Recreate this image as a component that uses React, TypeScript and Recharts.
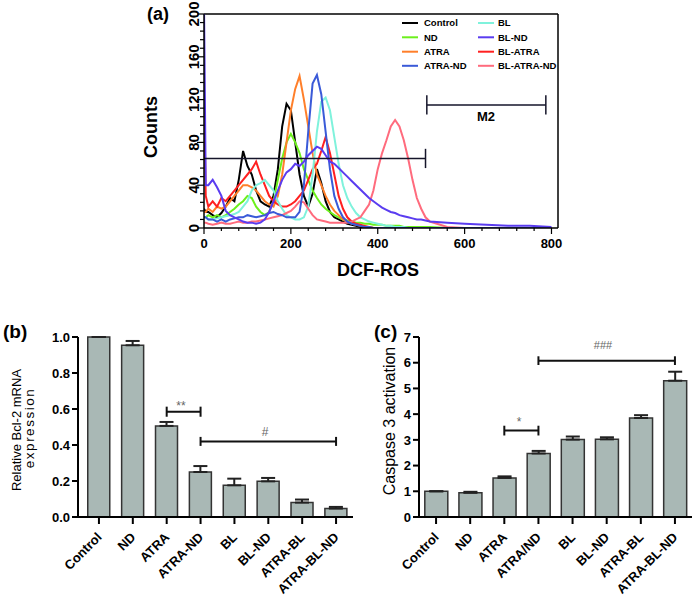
import React from "react";
import { LineChart, Line, XAxis, YAxis, BarChart, Bar, ErrorBar, ReferenceLine } from "recharts";

const FONT = "'Liberation Sans', Arial, Helvetica, sans-serif";

// ---------- (a) DCF-ROS histogram ----------
const dcfBins = [0, 4, 10, 20, 30, 40, 50, 60, 70, 80, 90, 100, 110, 120, 130, 140, 150, 160, 170, 180, 190, 200, 210, 220, 230, 240, 250, 260, 270, 280, 290, 300, 310, 320, 330, 340, 350, 360, 370, 380, 390, 400, 410, 420, 430, 440, 450, 460, 470, 480, 490, 500, 510, 520, 560, 600, 650, 700, 750, 800];

const controlCounts = [18, 15, 15, 12, 10, 14, 20, 28, 25, 45, 72, 58, 50, 35, 25, 22, 20, 30, 55, 95, 116, 110, 80, 50, 30, 20, 32, 55, 42, 25, 15, 10, 8, 6, 4, 3, 2, 1, 1, 0, 0, 0, 0, 0, 0, 0, 0, 0, 0, 0, 0, 0, 0, 0, 0, 0, 0, 0, 0, 0];
const ndCounts = [10, 10, 12, 10, 12, 10, 12, 15, 18, 22, 25, 30, 28, 20, 15, 12, 15, 25, 45, 65, 80, 88, 80, 70, 55, 45, 35, 28, 22, 18, 15, 12, 10, 8, 7, 6, 5, 5, 4, 4, 3, 3, 3, 2, 2, 2, 2, 1, 1, 1, 1, 1, 1, 1, 0, 0, 0, 0, 0, 0];
const atraCounts = [15, 15, 18, 15, 20, 18, 20, 25, 30, 35, 40, 40, 38, 35, 30, 25, 22, 20, 30, 50, 80, 110, 130, 142, 120, 95, 70, 50, 40, 30, 22, 16, 12, 8, 6, 4, 3, 2, 1, 1, 0, 0, 0, 0, 0, 0, 0, 0, 0, 0, 0, 0, 0, 0, 0, 0, 0, 0, 0, 0];
const atraNdCounts = [10, 10, 8, 8, 6, 8, 6, 8, 9, 10, 10, 12, 11, 10, 11, 12, 14, 15, 13, 12, 10, 10, 10, 15, 40, 90, 135, 143, 125, 90, 55, 30, 18, 10, 6, 4, 3, 2, 1, 1, 0, 0, 0, 0, 0, 0, 0, 0, 0, 0, 0, 0, 0, 0, 0, 0, 0, 0, 0, 0];
const blCounts = [10, 10, 8, 8, 9, 10, 11, 12, 13, 15, 20, 25, 35, 40, 42, 45, 40, 35, 25, 18, 12, 10, 8, 8, 10, 20, 50, 90, 118, 122, 110, 85, 60, 40, 28, 20, 14, 10, 8, 6, 5, 4, 3, 2, 2, 1, 1, 1, 0, 0, 0, 0, 0, 0, 0, 0, 0, 0, 0, 0];
const blNdCounts = [210, 40, 40, 45, 38, 30, 16, 12, 10, 8, 6, 5, 5, 4, 5, 8, 15, 25, 35, 45, 52, 55, 60, 58, 62, 68, 72, 76, 74, 68, 62, 60, 56, 52, 48, 44, 40, 36, 32, 28, 25, 22, 19, 17, 15, 14, 12, 11, 10, 9, 8, 8, 7, 6, 5, 4, 3, 2, 2, 1];
const blAtraCounts = [125, 30, 20, 25, 20, 28, 25, 30, 35, 40, 45, 50, 55, 62, 50, 40, 30, 25, 22, 20, 20, 22, 25, 30, 35, 45, 55, 60, 72, 85, 70, 50, 30, 18, 10, 6, 4, 3, 2, 1, 0, 0, 0, 0, 0, 0, 0, 0, 0, 0, 0, 0, 0, 0, 0, 0, 0, 0, 0, 0];
const blAtraNdCounts = [5, 5, 4, 3, 4, 5, 4, 4, 5, 6, 5, 5, 6, 6, 7, 8, 9, 10, 11, 12, 14, 16, 20, 25, 24, 18, 12, 8, 7, 6, 5, 5, 5, 5, 5, 6, 8, 10, 16, 22, 35, 55, 70, 82, 95, 101, 95, 82, 65, 45, 28, 18, 10, 6, 1, 0, 0, 0, 0, 0];

const dcfTicks = [0, 40, 80, 120, 160, 200, 240, 280, 320, 360, 400, 440, 480, 520, 560, 600, 640, 680, 720, 760, 800];
const dcfTickLabels = [0, 200, 400, 600, 800];
const countTicks = [0, 8, 16, 24, 32, 40, 48, 56, 64, 72, 80, 88, 96, 104, 112, 120, 128, 136, 144, 152, 160, 168, 176, 184, 192, 200];
const countTickLabels = [0, 40, 80, 120, 160, 200];

const m1Gate = { from: 0, to: 510, level: 65 };
const m2Gate = { from: 513, to: 787, level: 115 };

const histSeries = [
  { key: "control", name: "Control", color: "#000000", counts: controlCounts },
  { key: "nd", name: "ND", color: "#6cf01c", counts: ndCounts },
  { key: "atra", name: "ATRA", color: "#ff7f2a", counts: atraCounts },
  { key: "atraNd", name: "ATRA-ND", color: "#3a5ad8", counts: atraNdCounts },
  { key: "bl", name: "BL", color: "#7ff2dc", counts: blCounts },
  { key: "blNd", name: "BL-ND", color: "#5a3cf0", counts: blNdCounts },
  { key: "blAtra", name: "BL-ATRA", color: "#ff2020", counts: blAtraCounts },
  { key: "blAtraNd", name: "BL-ATRA-ND", color: "#ff6b7d", counts: blAtraNdCounts },
];
// drawing order (last on top)
const drawOrder = ["control", "nd", "atra", "blAtra", "bl", "blAtraNd", "atraNd", "blNd"];

const histRows = dcfBins.map((x, i) => {
  const row: any = { x };
  histSeries.forEach((s) => (row[s.key] = s.counts[i]));
  return row;
});

// ---------- (b) Bcl-2 mRNA ----------
const bcl2Groups = ["Control", "ND", "ATRA", "ATRA-ND", "BL", "BL-ND", "ATRA-BL", "ATRA-BL-ND"];
const bcl2Mean = [1.0, 0.954, 0.506, 0.25, 0.176, 0.198, 0.08, 0.047];
const bcl2Sem = [0, 0.024, 0.022, 0.033, 0.037, 0.019, 0.017, 0.009];
const bcl2Ticks = [0, 0.2, 0.4, 0.6, 0.8, 1.0];
const bcl2Rows = bcl2Groups.map((g, i) => ({ group: g, mean: bcl2Mean[i], sem: bcl2Sem[i] }));

// ---------- (c) Caspase 3 ----------
const caspGroups = ["Control", "ND", "ATRA", "ATRA/ND", "BL", "BL-ND", "ATRA-BL", "ATRA-BL-ND"];
const caspMean = [1.0, 0.94, 1.52, 2.47, 3.01, 3.02, 3.85, 5.3];
const caspSem = [0, 0.04, 0.06, 0.1, 0.12, 0.08, 0.11, 0.35];
const caspTicks = [0, 1, 2, 3, 4, 5, 6, 7];
const caspRows = caspGroups.map((g, i) => ({ group: g, mean: caspMean[i], sem: caspSem[i] }));

const BAR_FILL = "#a9b8b5";

const HistXTick = (props: any) => {
  const { x, y, payload } = props;
  const major = dcfTickLabels.includes(payload.value);
  return (
    <g>
      <line x1={x} y1={y} x2={x} y2={y + (major ? 6 : 3)} stroke="#000" strokeWidth={1.2} />
      {major && (
        <text x={x} y={y + 20} textAnchor="middle" fontSize={13} fontWeight="bold" fontFamily={FONT} fill="#000">
          {payload.value}
        </text>
      )}
    </g>
  );
};

const CountTick = (props: any) => {
  const { x, y, payload } = props;
  const major = countTickLabels.includes(payload.value);
  const tx = x - 5;
  return (
    <g>
      <line x1={x - (major ? 7 : 4)} y1={y} x2={x} y2={y} stroke="#000" strokeWidth={1.2} />
      {major && (
        <text x={tx} y={y} transform={`rotate(-90, ${tx}, ${y})`} textAnchor="middle" fontSize={15} fontWeight="bold" fontFamily={FONT} fill="#000">
          {payload.value}
        </text>
      )}
    </g>
  );
};

const GroupTick = (props: any) => {
  const { x, y, payload } = props;
  const tx = x + 3.5;
  const ty = y + 21;
  return (
    <g>
      <line x1={x} y1={y} x2={x} y2={y + 7} stroke="#000" strokeWidth={2} />
      <text x={tx} y={ty} transform={`rotate(-45, ${tx}, ${ty})`} textAnchor="end" fontSize={13} fontWeight="bold" fontFamily={FONT} fill="#000">
        {payload.value}
      </text>
    </g>
  );
};

const makeValueTick = (fmt: (v: number) => string) => (props: any) => {
  const { x, y, payload } = props;
  return (
    <g>
      <line x1={x - 6} y1={y} x2={x} y2={y} stroke="#000" strokeWidth={2} />
      <text x={x - 8} y={y} dy="0.36em" textAnchor="end" fontSize={13} fontWeight="bold" fontFamily={FONT} fill="#000">
        {fmt(payload.value)}
      </text>
    </g>
  );
};

const bracketLines = (from: string, to: string, level: number, cap: number, key: string) => [
  <ReferenceLine key={key + "h"} segment={[{ x: from, y: level }, { x: to, y: level }]} stroke="#111" strokeWidth={2} />,
  <ReferenceLine key={key + "l"} segment={[{ x: from, y: level - cap }, { x: from, y: level + cap }]} stroke="#111" strokeWidth={2} />,
  <ReferenceLine key={key + "r"} segment={[{ x: to, y: level - cap }, { x: to, y: level + cap }]} stroke="#111" strokeWidth={2} />,
];

const gateLines = (g: { from: number; to: number; level: number }, capLeft: boolean, key: string) => {
  const out = [
    <ReferenceLine key={key + "h"} segment={[{ x: g.from, y: g.level }, { x: g.to, y: g.level }]} stroke="#15152a" strokeWidth={1.5} />,
    <ReferenceLine key={key + "r"} segment={[{ x: g.to, y: g.level - 9 }, { x: g.to, y: g.level + 9 }]} stroke="#15152a" strokeWidth={1.5} />,
  ];
  if (capLeft)
    out.push(<ReferenceLine key={key + "l"} segment={[{ x: g.from, y: g.level - 9 }, { x: g.from, y: g.level + 9 }]} stroke="#15152a" strokeWidth={1.5} />);
  return out;
};

const Overlay = () => {
  const legendLeft = histSeries.slice(0, 4);
  const legendRight = histSeries.slice(4);
  const rows = [23, 37.3, 51.7, 65.8];
  const t = { fontFamily: FONT, fill: "#000" };
  return (
    <svg width={695} height={598} style={{ position: "absolute", left: 0, top: 0, pointerEvents: "none" }}>
      <text x={147} y={20} fontSize={18} fontWeight="bold" {...t}>(a)</text>
      <text x={157} y={127} transform="rotate(-90, 157, 127)" textAnchor="middle" fontSize={18} fontWeight="bold" {...t}>Counts</text>
      <text x={378} y={276} textAnchor="middle" fontSize={18} fontWeight="bold" {...t}>DCF-ROS</text>
      {legendLeft.map((s, i) => (
        <g key={s.key}>
          <line x1={402} y1={rows[i]} x2={418} y2={rows[i]} stroke={s.color} strokeWidth={2} />
          <text x={424} y={rows[i]} dy="0.35em" fontSize={9.5} fontWeight="bold" {...t}>{s.name}</text>
        </g>
      ))}
      {legendRight.map((s, i) => (
        <g key={s.key}>
          <line x1={478} y1={rows[i]} x2={494} y2={rows[i]} stroke={s.color} strokeWidth={2} />
          <text x={498} y={rows[i]} dy="0.35em" fontSize={9.5} fontWeight="bold" {...t}>{s.name}</text>
        </g>
      ))}
      <text x={486} y={121} textAnchor="middle" fontSize={13} fontWeight="bold" {...t}>M2</text>

      <text x={3} y={338} fontSize={19} fontWeight="bold" {...t}>(b)</text>
      <text x={21} y={430} transform="rotate(-90, 21, 430)" textAnchor="middle" fontSize={13} {...t}>Relative Bcl-2 mRNA</text>
      <text x={34} y={428} transform="rotate(-90, 34, 428)" textAnchor="middle" fontSize={13.5} letterSpacing={1.5} {...t}>expression</text>
      <text x={181} y={410} textAnchor="middle" fontSize={12} fontFamily={FONT} fill="#666">**</text>
      <text x={265} y={436} textAnchor="middle" fontSize={12} fontFamily={FONT} fill="#666">#</text>

      <text x={374} y={338} fontSize={19} fontWeight="bold" {...t}>(c)</text>
      <text x={395} y={421} transform="rotate(-90, 395, 421)" textAnchor="middle" fontSize={16} {...t}>Caspase 3 activation</text>
      <text x={519} y={426} textAnchor="middle" fontSize={12} fontFamily={FONT} fill="#666">*</text>
      <text x={603} y={349} textAnchor="middle" fontSize={11} fontFamily={FONT} fill="#666">###</text>
    </svg>
  );
};

export default function App() {
  const axisStyle = { stroke: "#000", strokeWidth: 2 };
  return (
    <div style={{ position: "absolute", left: 0, top: 0, width: 695, height: 598, background: "#fff", fontFamily: FONT }}>
      <div style={{ position: "absolute", left: 0, top: 0 }}>
        <LineChart width={580} height={290} data={histRows} margin={{ top: 14, right: 22, bottom: 0, left: 0 }}>
          <XAxis dataKey="x" type="number" domain={[0, 815]} ticks={dcfTicks} interval={0} tick={HistXTick} tickSize={0} tickMargin={0} tickLine={false} axisLine={{ stroke: "#000", strokeWidth: 1.5 }} height={62} allowDataOverflow />
          <YAxis type="number" domain={[0, 200]} ticks={countTicks} interval={0} tick={CountTick} tickSize={0} tickMargin={0} tickLine={false} axisLine={{ stroke: "#000", strokeWidth: 1.5 }} width={204} allowDataOverflow />
          <ReferenceLine y={200} stroke="#000" strokeWidth={1.5} />
          <ReferenceLine x={815} stroke="#000" strokeWidth={1.5} />
          {drawOrder.map((k) => {
            const s = histSeries.find((h) => h.key === k)!;
            return <Line key={k} dataKey={k} type="linear" stroke={s.color} strokeWidth={2} dot={false} isAnimationActive={false} />;
          })}
          {gateLines(m1Gate, false, "m1")}
          {gateLines(m2Gate, true, "m2")}
        </LineChart>
      </div>

      <div style={{ position: "absolute", left: 0, top: 300 }}>
        <BarChart width={360} height={298} data={bcl2Rows} margin={{ top: 37, right: 7, bottom: 0, left: 0 }} barCategoryGap="17%">
          <XAxis dataKey="group" interval={0} tick={GroupTick} tickSize={0} tickMargin={0} tickLine={false} axisLine={axisStyle} height={81} padding={{ left: 4, right: 0 }} />
          <YAxis type="number" domain={[0, 1]} ticks={bcl2Ticks} interval={0} tick={makeValueTick((v) => v.toFixed(1))} tickSize={0} tickMargin={0} tickLine={false} axisLine={axisStyle} width={78} />
          <Bar dataKey="mean" fill={BAR_FILL} stroke="#333" strokeWidth={1.5} isAnimationActive={false}>
            <ErrorBar dataKey={(d: any) => [0, d.sem]} width={7} stroke="#222" strokeWidth={2} direction="y" />
          </Bar>
          {bracketLines("ATRA", "ATRA-ND", 0.585, 0.028, "b1")}
          {bracketLines("ATRA-ND", "ATRA-BL-ND", 0.42, 0.025, "b2")}
        </BarChart>
      </div>

      <div style={{ position: "absolute", left: 340, top: 300 }}>
        <BarChart width={355} height={298} data={caspRows} margin={{ top: 37, right: 3, bottom: 0, left: 0 }} barCategoryGap="17%">
          <XAxis dataKey="group" interval={0} tick={GroupTick} tickSize={0} tickMargin={0} tickLine={false} axisLine={axisStyle} height={81} />
          <YAxis type="number" domain={[0, 7]} ticks={caspTicks} interval={0} tick={makeValueTick((v) => String(v))} tickSize={0} tickMargin={0} tickLine={false} axisLine={axisStyle} width={79} />
          <Bar dataKey="mean" fill={BAR_FILL} stroke="#333" strokeWidth={1.5} isAnimationActive={false}>
            <ErrorBar dataKey={(d: any) => [0, d.sem]} width={7} stroke="#222" strokeWidth={2} direction="y" />
          </Bar>
          {bracketLines("ATRA", "ATRA/ND", 3.36, 0.19, "c1")}
          {bracketLines("ATRA/ND", "ATRA-BL-ND", 6.08, 0.17, "c2")}
        </BarChart>
      </div>

      <Overlay />
    </div>
  );
}
